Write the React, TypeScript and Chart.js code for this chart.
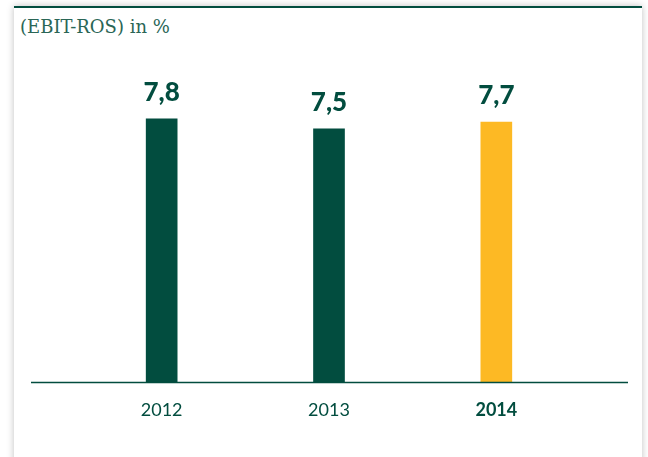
import React, { useEffect, useRef } from "react";
import { Chart, registerables } from "chart.js";

Chart.register(...registerables);

const categories = ["2012", "2013", "2014"];
const values = [7.8, 7.5, 7.7];
const valueLabels = ["7,8", "7,5", "7,7"];
const barColors = ["#024d3f", "#024d3f", "#fdb924"];
const boldCategory = "2014";
const title = "(EBIT-ROS) in %";

const GREEN = "#024d3f";

const baselinePlugin = {
  id: "baselineExt",
  afterDatasetsDraw(chart: any) {
    const { ctx } = chart;
    const y = chart.scales.y.getPixelForValue(0);
    ctx.save();
    ctx.strokeStyle = GREEN;
    ctx.lineWidth = 1.5;
    ctx.beginPath();
    ctx.moveTo(31, y);
    ctx.lineTo(628, y);
    ctx.stroke();
    ctx.restore();
  },
};

const valueLabelPlugin = {
  id: "valueLabels",
  afterDatasetsDraw(chart: any) {
    const { ctx } = chart;
    const meta = chart.getDatasetMeta(0);
    ctx.save();
    ctx.fillStyle = GREEN;
    ctx.font = "900 26px Lato";
    ctx.textAlign = "center";
    ctx.textBaseline = "alphabetic";
    meta.data.forEach((bar: any, i: number) => {
      ctx.fillText(valueLabels[i], bar.x, bar.y - 18);
    });
    ctx.restore();
  },
};

export default function App() {
  const ref = useRef<HTMLCanvasElement>(null);
  useEffect(() => {
    if (!ref.current) return;
    const chart = new Chart(ref.current, {
      type: "bar",
      data: {
        labels: categories,
        datasets: [
          {
            data: values,
            backgroundColor: barColors,
            barThickness: 31,
            borderWidth: 0,
          },
        ],
      },
      options: {
        animation: false,
        responsive: false,
        maintainAspectRatio: false,
        layout: { padding: { left: 78, right: 68, top: 60, bottom: 19 } },
        plugins: { legend: { display: false }, tooltip: { enabled: false }, title: { display: false } },
        scales: {
          y: { display: false, min: 0, max: 9.54 },
          x: {
            grid: { display: false, drawTicks: false },
            border: { display: false },
            ticks: {
              padding: 17,
              color: GREEN,
              font: (ctx: any) => {
                const lbl = categories[ctx.index];
                return {
                  family: "Lato",
                  size: 18,
                  weight: lbl === boldCategory ? "bold" : "normal",
                };
              },
            },
          },
        },
      },
      plugins: [baselinePlugin, valueLabelPlugin],
    });
    return () => chart.destroy();
  }, []);

  return (
    <div style={{ position: "fixed", left: 0, top: 0, width: 648, height: 457, background: "#ffffff", overflow: "hidden" }}>
      <div
        style={{
          position: "absolute",
          left: 14,
          top: 6,
          width: 628,
          height: 470,
          background: "#ffffff",
          borderTop: "2px solid " + GREEN,
          boxShadow: "0 0 7px rgba(0,0,0,0.25)",
        }}
      />
      <div
        style={{
          position: "absolute",
          left: 20,
          top: 16,
          fontFamily: "'DejaVu Serif', serif",
          fontSize: 18,
          color: "#2a6656",
          whiteSpace: "nowrap",
        }}
      >
        {title}
      </div>
      <canvas ref={ref} width={648} height={457} style={{ position: "absolute", left: 0, top: 0 }} />
    </div>
  );
}
